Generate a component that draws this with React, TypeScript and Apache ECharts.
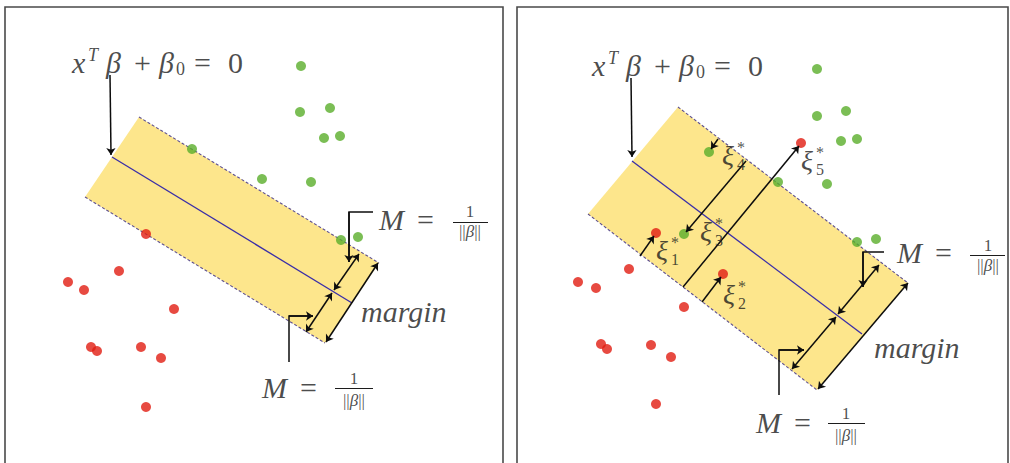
import React, { useEffect, useRef } from "react";
import * as echarts from "echarts";

// ---- data (page pixel units, y downward) ----
const greenLeft = [[301,66],[300,112],[330,108],[324,138],[340,136],[192,149],[262,179],[311,182],[341,240],[358,237]];
const redLeft = [[146,234],[119,271],[68,282],[84,290],[174,309],[91,347],[97,351],[141,347],[161,358],[146,407]];
const greenRight = [[817,69],[817,116],[846,111],[841,141],[857,139],[709,152],[778,182],[827,184],[684,234],[857,242],[876,239]];
const redRight = [[801,143],[656,233],[723,274],[629,269],[578,282],[596,288],[684,307],[601,344],[607,349],[651,345],[671,357],[656,404]];

const bandLeft = [[139,117],[379,263],[325,343],[85,197]];
const bandRight = [[678,107],[908,283],[817,390],[588,214]];

const hyperplanes = [
  [[112,157],[352,303]],
  [[632,161],[862,334]],
];
const dashedEdges = [
  [[139,117],[379,263]], [[85,197],[325,343]],
  [[678,107],[908,283]], [[588,214],[817,390]],
];
const doubleArrows = [
  [[378,263],[326,342]], [[359,254],[334,290]], [[332,293],[306,332]],
  [[908,283],[818,389]], [[879,265],[838,314]], [[836,317],[792,369]],
];
const pointerArrows = [
  [[110,75],[111,155]], [[631,78],[632,157]],
  [[373,212],[349,212],[349,262]], [[289,362],[289,316],[313,316]],
  [[884,252],[863,252],[863,287]], [[779,395],[779,350],[804,350]],
  [[718,139],[711,149]], [[746,161],[686,232]], [[683,287],[799,146]],
  [[640,256],[654,236]], [[702,302],[721,277]],
];
const fractionBars = [
  [[453,222],[488,222]], [[335,388],[373,388]],
  [[970,255],[1005,255]], [[828,423],[865,423]],
];

const equationAnchors = [[72,62],[592,65]];
const mAnchors = [[379,219],[262,387],[897,252],[756,422]];
const numeratorAnchors = [[470,211],[354,378],[988,245],[846,413]];
const denominatorAnchors = [[470,231],[354,400],[988,265],[846,435]];
const marginAnchors = [[361,311],[874,347]];
const xiAnchors = [[656,250],[723,294],[700,231],[722,155],[801,160]];
const xiIndices = ["1","2","3","4","5"];

const SERIF = "'Liberation Serif', 'Times New Roman', serif";
const TXT = "#1c1c1c";
const INK = "#0d0d0d";

const baseRich = {
  i: { fontFamily: SERIF, fontStyle: "italic", fontSize: 30, color: TXT, lineHeight: 32 },
  u: { fontFamily: SERIF, fontSize: 30, color: TXT, lineHeight: 32 },
};

function textSeries(points: number[][], texts: string[], label: any, z = 10) {
  return {
    type: "scatter",
    symbolSize: 0,
    silent: true,
    z,
    data: points.map((p, k) => ({ value: p, label: { formatter: texts[k] } })),
    label: { show: true, ...label },
  };
}

function linesSeries(data: number[][][], style: any, extra: any = {}) {
  return {
    type: "lines",
    coordinateSystem: "cartesian2d",
    silent: true,
    data: data.map((c) => ({ coords: c })),
    lineStyle: { opacity: 1, ...style },
    ...extra,
  };
}

// pointer shafts (whole polyline) and their final segment, which carries the arrowhead
const pointerShafts = pointerArrows.filter((p) => p.length > 2);
const pointerTips = pointerArrows.map((p) => p.slice(p.length - 2));

export default function App() {
  const ref = useRef<HTMLDivElement>(null);
  useEffect(() => {
    const chart = echarts.init(ref.current!, null, { renderer: "svg" });
    const eqText = "{x|x}{sup|T}{b|β}{op|+}{b2|β}{sub|0}{eq|=}{u|0}";
    const arrowStyle = { color: INK, width: 1.5 };
    const option: any = {
      animation: false,
      backgroundColor: "#ffffff",
      textStyle: { fontFamily: SERIF },
      grid: { left: 0, top: 0, right: 0, bottom: 0 },
      xAxis: { type: "value", min: 0, max: 1010, show: false },
      yAxis: { type: "value", min: 0, max: 463, inverse: true, show: false },
      graphic: [
        { type: "rect", shape: { x: 5, y: 7, width: 498, height: 470 }, style: { fill: "none", stroke: "#4a4a4a", lineWidth: 1.6 }, z: 100 },
        { type: "rect", shape: { x: 517, y: 7, width: 491, height: 470 }, style: { fill: "none", stroke: "#4a4a4a", lineWidth: 1.6 }, z: 100 },
      ],
      series: [
        {
          type: "custom",
          coordinateSystem: "cartesian2d",
          silent: true,
          z: 1,
          data: [bandLeft.flat(), bandRight.flat()],
          encode: { x: [0, 2, 4, 6], y: [1, 3, 5, 7] },
          renderItem: (params: any, api: any) => {
            const pts = [0, 1, 2, 3].map((i) => api.coord([api.value(2 * i), api.value(2 * i + 1)]));
            return { type: "polygon", shape: { points: pts }, style: { fill: "#fde68c" } };
          },
        },
        linesSeries(dashedEdges, { color: "#5e5090", width: 1.1, type: [3, 2] }, { z: 2 }),
        linesSeries(hyperplanes, { color: "#3a2ea8", width: 1.3 }, { z: 2 }),
        { type: "scatter", symbolSize: 10, z: 3, silent: true, itemStyle: { color: "#5aae2a" }, data: [...greenLeft, ...greenRight] },
        { type: "scatter", symbolSize: 10, z: 3, silent: true, itemStyle: { color: "#e11d12" }, data: [...redLeft, ...redRight] },
        linesSeries(doubleArrows, arrowStyle, { z: 4, symbol: ["arrow", "arrow"], symbolSize: 7 }),
        linesSeries(pointerShafts, arrowStyle, { z: 4, polyline: true }),
        linesSeries(pointerTips, arrowStyle, { z: 4, symbol: ["none", "arrow"], symbolSize: 7 }),
        linesSeries(fractionBars, { color: TXT, width: 1 }, { z: 4 }),
        textSeries(equationAnchors, [eqText, eqText], {
          position: "right", distance: 0,
          rich: {
            x: { ...baseRich.i, width: 16 },
            sup: { fontFamily: SERIF, fontStyle: "italic", fontSize: 18, lineHeight: 24, verticalAlign: "top", color: TXT, width: 18 },
            b: { ...baseRich.i, width: 28 },
            op: { ...baseRich.u, width: 25 },
            b2: { ...baseRich.i, width: 17 },
            sub: { fontFamily: SERIF, fontSize: 18, lineHeight: 21, verticalAlign: "bottom", color: TXT, width: 18 },
            eq: { ...baseRich.u, width: 34 },
            u: { ...baseRich.u },
          },
        }),
        textSeries(mAnchors, mAnchors.map(() => "{m|M}{u|=}"), {
          position: "right", distance: 0,
          rich: { m: { ...baseRich.i, width: 38 }, u: { ...baseRich.u } },
        }),
        textSeries(numeratorAnchors, numeratorAnchors.map(() => "1"), {
          position: "inside", fontFamily: SERIF, fontSize: 17, color: TXT, lineHeight: 14,
        }),
        textSeries(denominatorAnchors, denominatorAnchors.map(() => "{u|||}{b|β}{u|||}"), {
          position: "inside",
          rich: {
            u: { fontFamily: SERIF, fontSize: 17, color: TXT, lineHeight: 16 },
            b: { fontFamily: SERIF, fontStyle: "italic", fontSize: 17, color: TXT, lineHeight: 16 },
          },
        }),
        textSeries(marginAnchors, marginAnchors.map(() => "margin"), {
          position: "right", distance: 0, fontFamily: SERIF, fontStyle: "italic", fontSize: 30, color: TXT,
        }),
        textSeries(xiAnchors, xiAnchors.map(() => "ξ"), {
          position: "right", distance: 0, fontFamily: SERIF, fontStyle: "italic", fontSize: 28, color: TXT, lineHeight: 22,
        }),
        textSeries(xiAnchors, xiAnchors.map(() => "*"), {
          position: "right", distance: 0, offset: [15, -8], fontFamily: SERIF, fontSize: 16, color: TXT, lineHeight: 9,
        }),
        textSeries(xiAnchors, xiIndices, {
          position: "right", distance: 0, offset: [15, 9], fontFamily: SERIF, fontSize: 16, color: TXT, lineHeight: 12,
        }),
      ],
    };
    chart.setOption(option);
    return () => chart.dispose();
  }, []);
  return <div ref={ref} style={{ position: "absolute", left: 0, top: 0, width: 1010, height: 463 }} />;
}
